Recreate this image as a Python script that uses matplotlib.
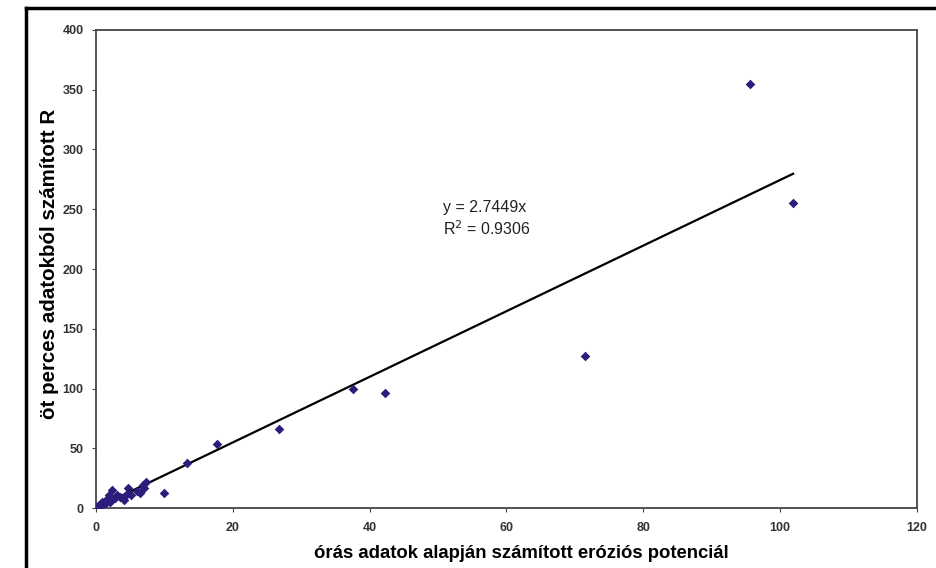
import numpy as np
import matplotlib.pyplot as plt
from matplotlib.lines import Line2D

plt.rcParams['font.family'] = ['Liberation Sans', 'DejaVu Sans']

# hourly-based erosion potential vs 5-minute based R
hourly = [95.6, 101.9, 71.5, 37.6, 42.2, 26.8, 17.7, 13.3, 9.9,
          7.3, 6.8, 6.5, 4.6, 5.1, 4.1, 2.4, 3.1, 1.9, 1.4, 0.9,
          0.4, 0.2, 0.1, 0.3, 0.6, 1.0, 1.5, 2.0, 2.8, 3.5, 4.5, 6.0, 7.0]
five_min = [354.8, 255.0, 127.0, 99.6, 96.5, 65.8, 53.3, 37.4, 12.3,
            22.0, 19.0, 12.3, 16.5, 10.9, 6.7, 15.0, 11.0, 11.0, 6.7, 5.3,
            2.5, 1.0, 0.5, 0.8, 1.5, 3.0, 4.0, 5.0, 8.0, 9.0, 12.0, 14.0, 17.0]
slope = 2.7449
r2 = 0.9306

fig = plt.figure(figsize=(9.36, 5.68), dpi=100)
ax = fig.add_axes([0.1026, 0.1056, 0.877, 0.8416])

ax.scatter(hourly, five_min, marker='D', s=24, color='#2b1d7c', zorder=3, linewidths=0)
xt = np.array([0, max(hourly)])
ax.plot(xt, slope * xt, color='black', lw=1.6, zorder=2)

ax.text(0.4226, 0.571, f'y = {slope}x\nR$^2$ = {r2}', transform=ax.transAxes,
        fontsize=11.5, linespacing=1.3, color='#222222')

ax.set_xlim(0, 120)
ax.set_ylim(0, 400)
ax.set_xticks(range(0, 121, 20))
ax.set_yticks(range(0, 401, 50))
ax.tick_params(length=3, color='#444444', width=0.8)
ax.tick_params(axis='x', pad=7)
ax.tick_params(axis='y', pad=6)
for lab in ax.get_xticklabels() + ax.get_yticklabels():
    lab.set_fontweight('bold')
    lab.set_color('#333333')
    lab.set_fontsize(9)
for sp in ax.spines.values():
    sp.set_color('#444444')
    sp.set_linewidth(1.3)

ax.set_xlabel('órás adatok alapján számított eróziós potenciál', fontsize=13.3,
              fontweight='bold')
ax.set_ylabel('öt perces adatokból számított R', fontsize=14.8,
              fontweight='bold')
ax.xaxis.set_label_coords(0.518, -0.077)
ax.yaxis.set_label_coords(-0.045, 0.51)

# outer frame (top and left edges visible)
fig.add_artist(Line2D([26 / 936, 26 / 936], [0, 1 - 8 / 568], color='black', lw=2.5))
fig.add_artist(Line2D([26 / 936, 1], [1 - 8 / 568, 1 - 8 / 568], color='black', lw=2.5))

fig.savefig('out.png', dpi=100)
